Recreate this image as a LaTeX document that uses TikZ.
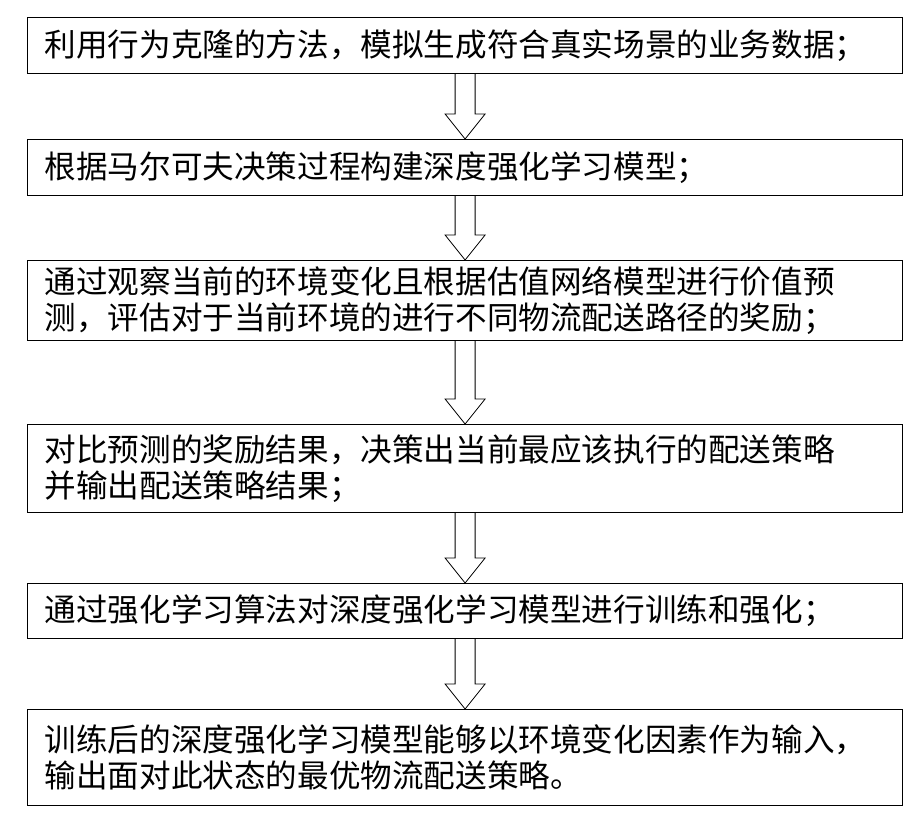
\documentclass[tikz,border=0pt]{standalone}
\usepackage{fontspec}
\setmainfont{Noto Sans CJK SC}
\usetikzlibrary{calc}
\begin{document}
\begin{tikzpicture}[x=1pt,y=-1pt,
  stepbox/.style={draw,line width=1.2pt,minimum width=875pt,text width=861pt,align=left,anchor=north west,inner xsep=7pt,font=\fontsize{31.6}{36}\selectfont,inner ysep=0pt},
  hollow/.style={draw,line width=0.8pt,fill=white}]
\useasboundingbox (0,0) rectangle (917,825);
\node[stepbox,minimum height=56pt] (b1) at (27,17) {\hspace{10pt}利用行为克隆的方法，模拟生成符合真实场景的业务数据；};
\node[stepbox,minimum height=56pt] (b2) at (27,139) {\hspace{10pt}根据马尔可夫决策过程构建深度强化学习模型；};
\node[stepbox,minimum height=80pt] (b3) at (27,260) {\hspace{10pt}通过观察当前的环境变化且根据估值网络模型进行价值预\\\hspace{10pt}测，评估对于当前环境的进行不同物流配送路径的奖励；};
\node[stepbox,minimum height=88pt] (b4) at (27,424) {\hspace{10pt}对比预测的奖励结果，决策出当前最应该执行的配送策略\\\hspace{10pt}并输出配送策略结果；};
\node[stepbox,minimum height=55pt] (b5) at (27,583) {\hspace{10pt}通过强化学习算法对深度强化学习模型进行训练和强化；};
\node[stepbox,minimum height=96pt] (b6) at (27,709) {\hspace{10pt}训练后的深度强化学习模型能够以环境变化因素作为输入，\\\hspace{10pt}输出面对此状态的最优物流配送策略。};
\foreach \a/\b in {b1/b2,b2/b3,b3/b4,b4/b5,b5/b6}{
  \path (\a.south) coordinate (s) (\b.north) coordinate (t);
  \draw[hollow] ($(s)+(-10,0)$) -- ($(t)+(-10,-25)$) -- ($(t)+(-20,-25)$) -- (t) -- ($(t)+(20,-25)$) -- ($(t)+(10,-25)$) -- ($(s)+(10,0)$);
}
\end{tikzpicture}
\end{document}
